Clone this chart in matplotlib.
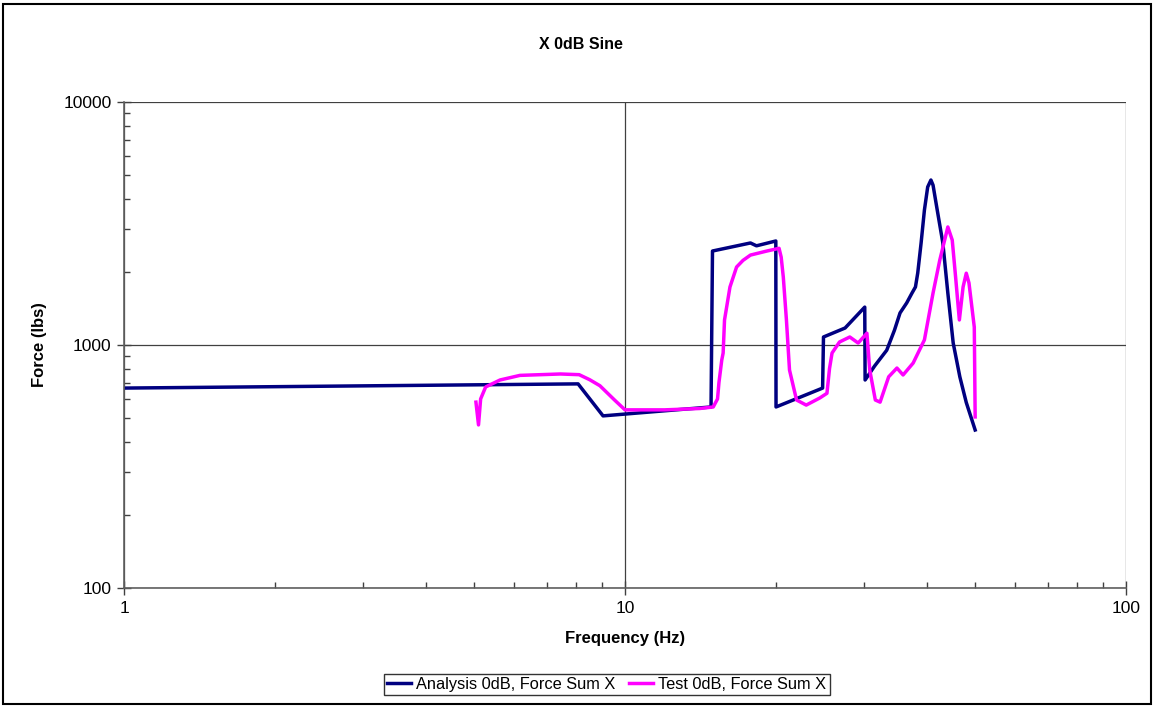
import matplotlib
matplotlib.use("Agg")
import matplotlib.pyplot as plt
from matplotlib.patches import Rectangle
from matplotlib.ticker import LogLocator, FixedLocator, NullFormatter

plt.rcParams['font.family'] = ['Liberation Sans', 'DejaVu Sans']

title = "X 0dB Sine"
xlabel = "Frequency (Hz)"
ylabel = "Force (lbs)"
analysis_label = "Analysis 0dB, Force Sum X"
test_label = "Test 0dB, Force Sum X"

analysis_freq = [1.0, 8.06, 9.04, 14.85, 14.95, 17.8, 18.3, 20.0, 20.02,
                 24.8, 24.9, 27.5, 30.1, 30.15, 31.5, 33.3, 34.5, 35.4, 36.5,
                 37.4, 38.0, 38.4, 39.0, 39.6, 40.2, 40.8, 41.2, 42.0, 43.1,
                 44.1, 45.2, 46.6, 48.0, 50.0]
analysis_force = [665, 692, 511, 556, 2437, 2630, 2560, 2680, 556,
                  665, 1079, 1175, 1432, 718, 820, 952, 1150, 1355, 1490,
                  1636, 1733, 1977, 2630, 3594, 4471, 4775, 4550, 3594, 2630,
                  1636, 1019, 740, 580, 447]

test_freq = [5.04, 5.10, 5.15, 5.27, 5.63, 6.17, 7.43, 8.1, 8.5, 8.91, 9.53, 10.0,
             12.0, 14.1, 15.0, 15.3, 15.4, 15.6, 15.7, 15.8, 16.2, 16.7, 17.2, 17.8,
             19.2, 20.3, 20.5, 20.7, 21.0, 21.3, 22.0, 23.0, 24.5, 25.3, 25.6, 25.9,
             26.8, 28.1, 29.2, 30.4, 30.8, 31.6, 32.3, 33.6, 34.9, 35.9, 37.6, 39.6,
             41.2, 42.5, 44.1, 45.0, 45.7, 46.5, 47.3, 48.0, 48.6, 49.8, 50.0]
test_force = [582, 469, 600, 672, 718, 750, 760, 755, 720, 680, 594, 541,
              541, 548, 556, 600, 700, 867, 927, 1268, 1733, 2094, 2230, 2345,
              2437, 2500, 2300, 1905, 1268, 789, 594, 566, 606, 633, 800, 927,
              1029, 1079, 1019, 1118, 789, 594, 582, 740, 804, 753, 843, 1050,
              1636, 2238, 3061, 2704, 1905, 1268, 1733, 1975, 1800, 1185, 506]

fig = plt.figure(figsize=(11.54, 7.06), dpi=100)
ax = fig.add_axes([0.1075, 0.1671, 0.8682, 0.6884])

ax.plot(analysis_freq, analysis_force, color='#000080', lw=2.5, label=analysis_label)
ax.plot(test_freq, test_force, color='#FF00FF', lw=2.5, label=test_label)

ax.set_xscale('log')
ax.set_yscale('log')
ax.set_xlim(1, 100)
ax.set_ylim(100, 10000)

ax.xaxis.set_major_locator(FixedLocator([1, 10, 100]))
ax.yaxis.set_major_locator(FixedLocator([100, 1000, 10000]))
ax.set_xticklabels(['1', '10', '100'])
ax.set_yticklabels(['100', '1000', '10000'])
ax.xaxis.set_minor_locator(LogLocator(base=10, subs=range(2, 10)))
ax.yaxis.set_minor_locator(LogLocator(base=10, subs=range(2, 10)))
ax.xaxis.set_minor_formatter(NullFormatter())
ax.yaxis.set_minor_formatter(NullFormatter())

ax.tick_params(which='major', direction='inout', length=10, width=1, color='#404040',
               labelsize=12.5, pad=4)
ax.tick_params(which='minor', direction='in', length=4, width=1, color='#404040')
ax.grid(which='major', color='#404040', lw=0.9)
ax.set_axisbelow(True)
for side in ['top', 'right']:
    ax.spines[side].set_visible(False)
for side in ['left', 'bottom']:
    ax.spines[side].set_color('#606060')
    ax.spines[side].set_linewidth(1.2)

ax.set_xlabel(xlabel, fontsize=12, fontweight='bold', labelpad=11)
ax.set_ylabel(ylabel, fontsize=12, fontweight='bold', labelpad=12)
fig.text(0.503, 0.937, title, ha='center', va='center', fontsize=11.5, fontweight='bold')

leg = fig.legend(loc='center', bbox_to_anchor=(0.5256, 0.0305), ncol=2, frameon=True,
                 fancybox=False, edgecolor='black', fontsize=11.8, handlelength=1.5,
                 handletextpad=0.3, columnspacing=0.8, borderpad=0.2, borderaxespad=0)
leg.get_frame().set_linewidth(1.0)

fig.patches.append(Rectangle((0.003, 0.003), 0.994, 0.991, transform=fig.transFigure,
                             fill=False, edgecolor='black', lw=1.5))

fig.savefig('out.png', dpi=100)
